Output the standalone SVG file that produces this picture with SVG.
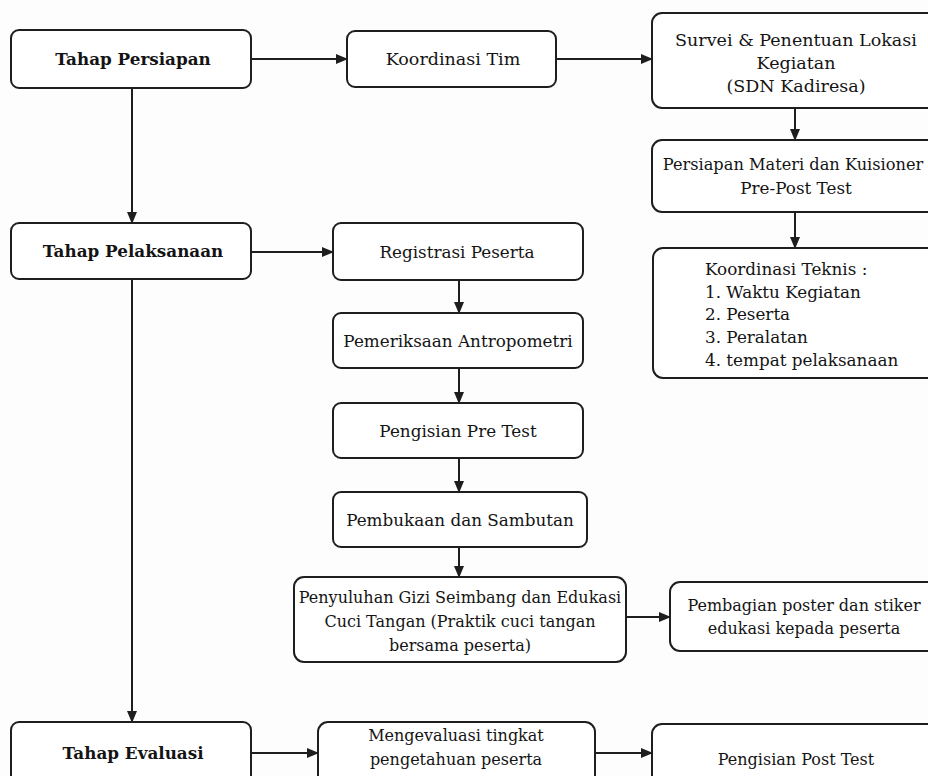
<svg xmlns="http://www.w3.org/2000/svg" width="928" height="776" viewBox="0 0 928 776">
<defs>
<style>
.box{fill:#fff;stroke:#1e1e1e;stroke-width:2}
.t{font-family:"DejaVu Serif","Liberation Serif",serif;font-size:16.8px;fill:#141414;text-anchor:middle}
.b{font-weight:bold}
.l{text-anchor:start}
.s{font-size:16px}
.lg{font-size:17.5px}
.c{fill:none;stroke:#1e1e1e;stroke-width:2}
</style>
<marker id="ah" markerUnits="userSpaceOnUse" markerWidth="12" markerHeight="10" refX="11" refY="5" orient="auto">
<path d="M0,0 L12,5 L0,10 z" fill="#1e1e1e"/>
</marker>
</defs>
<rect width="928" height="776" fill="#fdfdfd"/>
<g id="connectors">
<line class="c" x1="251" y1="59" x2="347" y2="59" marker-end="url(#ah)"/>
<line class="c" x1="556" y1="59" x2="652" y2="59" marker-end="url(#ah)"/>
<line class="c" x1="795" y1="108" x2="795" y2="140" marker-end="url(#ah)"/>
<line class="c" x1="795" y1="212" x2="795" y2="248" marker-end="url(#ah)"/>
<line class="c" x1="132" y1="88" x2="132" y2="223" marker-end="url(#ah)"/>
<line class="c" x1="251" y1="252" x2="333" y2="252" marker-end="url(#ah)"/>
<line class="c" x1="459" y1="280" x2="459" y2="313" marker-end="url(#ah)"/>
<line class="c" x1="459" y1="368" x2="459" y2="403" marker-end="url(#ah)"/>
<line class="c" x1="459" y1="458" x2="459" y2="492" marker-end="url(#ah)"/>
<line class="c" x1="459" y1="547" x2="459" y2="577" marker-end="url(#ah)"/>
<line class="c" x1="626" y1="617" x2="670" y2="617" marker-end="url(#ah)"/>
<line class="c" x1="132" y1="279" x2="132" y2="722" marker-end="url(#ah)"/>
<line class="c" x1="251" y1="753" x2="318" y2="753" marker-end="url(#ah)"/>
<line class="c" x1="595" y1="753" x2="652" y2="753" marker-end="url(#ah)"/>
</g>
<g id="tahap-persiapan">
<rect class="box" x="11" y="30" width="240" height="58" rx="8"/>
<text class="t b" x="133" y="65">Tahap Persiapan</text>
</g>
<g id="koordinasi-tim">
<rect class="box" x="347" y="31" width="209" height="56" rx="8"/>
<text class="t lg" x="453" y="65">Koordinasi Tim</text>
</g>
<g id="survei">
<rect class="box" x="652" y="13" width="290" height="95" rx="10"/>
<text class="t lg" x="796" y="46">Survei &amp; Penentuan Lokasi</text>
<text class="t lg" x="796" y="69">Kegiatan</text>
<text class="t lg" x="796" y="92">(SDN Kadiresa)</text>
</g>
<g id="persiapan-materi">
<rect class="box" x="652" y="140" width="290" height="72" rx="10"/>
<text class="t" x="793" y="170" style="font-size:16.2px">Persiapan Materi dan Kuisioner</text>
<text class="t" x="796" y="194">Pre-Post Test</text>
</g>
<g id="koordinasi-teknis">
<rect class="box" x="653" y="248" width="290" height="130" rx="10"/>
<text class="t l" x="705" y="275">Koordinasi Teknis :</text>
<text class="t l" x="705" y="298">1. Waktu Kegiatan</text>
<text class="t l" x="705" y="320">2. Peserta</text>
<text class="t l" x="705" y="343">3. Peralatan</text>
<text class="t l" x="705" y="366">4. tempat pelaksanaan</text>
</g>
<g id="tahap-pelaksanaan">
<rect class="box" x="11" y="223" width="240" height="56" rx="8"/>
<text class="t b" x="133" y="257">Tahap Pelaksanaan</text>
</g>
<g id="registrasi">
<rect class="box" x="333" y="223" width="250" height="57" rx="8"/>
<text class="t" x="457" y="258">Registrasi Peserta</text>
</g>
<g id="pemeriksaan">
<rect class="box" x="333" y="313" width="250" height="55" rx="8"/>
<text class="t" x="458" y="347">Pemeriksaan Antropometri</text>
</g>
<g id="pre-test">
<rect class="box" x="333" y="403" width="250" height="55" rx="8"/>
<text class="t" x="458" y="437">Pengisian Pre Test</text>
</g>
<g id="pembukaan">
<rect class="box" x="333" y="492" width="254" height="55" rx="8"/>
<text class="t" x="460" y="526">Pembukaan dan Sambutan</text>
</g>
<g id="penyuluhan">
<rect class="box" x="294" y="577" width="332" height="85" rx="10"/>
<text class="t s" x="460" y="603">Penyuluhan Gizi Seimbang dan Edukasi</text>
<text class="t s" x="460" y="627">Cuci Tangan (Praktik cuci tangan</text>
<text class="t s" x="460" y="651">bersama peserta)</text>
</g>
<g id="pembagian">
<rect class="box" x="670" y="582" width="270" height="69" rx="10"/>
<text class="t s" x="804" y="611">Pembagian poster dan stiker</text>
<text class="t s" x="804" y="634">edukasi kepada peserta</text>
</g>
<g id="tahap-evaluasi">
<rect class="box" x="11" y="722" width="240" height="64" rx="8"/>
<text class="t b" x="133" y="759">Tahap Evaluasi</text>
</g>
<g id="mengevaluasi">
<rect class="box" x="318" y="722" width="277" height="64" rx="10"/>
<text class="t s" x="456" y="741">Mengevaluasi tingkat</text>
<text class="t s" x="456" y="765">pengetahuan peserta</text>
</g>
<g id="post-test">
<rect class="box" x="652" y="724" width="290" height="62" rx="10"/>
<text class="t s" x="796" y="765">Pengisian Post Test</text>
</g>
</svg>
